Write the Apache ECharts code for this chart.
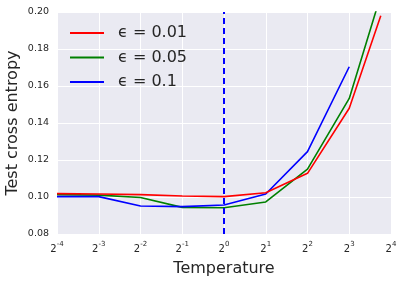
<!DOCTYPE html>
<html><head><meta charset="utf-8">
<script src="https://cdn.jsdelivr.net/npm/echarts@6/dist/echarts.min.js"></script>
<style>html,body{margin:0;padding:0;background:#fff}#c{width:404px;height:283px}</style>
</head><body><div id="c"></div>
<script>
var temperatures = [0.0625, 0.125, 0.25, 0.5, 1, 2, 4, 8, 13.5];
var tempsBlue = [0.0625, 0.125, 0.25, 0.5, 1, 2, 4, 8];
var eps001 = [0.1018, 0.1016, 0.1013, 0.1005, 0.1002, 0.1023, 0.1128, 0.148, 0.198];
var eps005 = [0.1013, 0.1010, 0.0997, 0.0944, 0.0942, 0.0973, 0.1151, 0.1533, 0.209];
var eps01  = [0.1002, 0.1002, 0.0951, 0.0948, 0.0957, 0.1016, 0.1245, 0.1704];
var seriesNames = ['\u03f5 = 0.01', '\u03f5 = 0.05', '\u03f5 = 0.1'];
var yTicks = [0.08, 0.10, 0.12, 0.14, 0.16, 0.18, 0.20];
var refTemperature = 1;

function pairs(xs, ys){ return ys.map(function(v,i){ return [xs[i], v]; }); }
var font = 'DejaVu Sans';
var chart = echarts.init(document.getElementById('c'), null, {renderer:'canvas'});
chart.setOption({
  animation:false,
  backgroundColor:'#ffffff',
  grid:{left:57, right:13, top:12, bottom:49, show:true, backgroundColor:'#EAEAF2', borderWidth:0,
        containLabel:false, outerBoundsMode:'none'},
  legend:{
    left:65, top:20, orient:'vertical', itemGap:8.5, itemWidth:34, itemHeight:18,
    textStyle:{fontFamily:font, fontSize:16, color:'#262626', padding:[0,0,0,9]},
    data:seriesNames.map(function(n){return {name:n, icon:'path://M0,0 L34,0 L34,2 L0,2 Z'};})
  },
  xAxis:{
    type:'log', logBase:2, min:0.0625, max:16,
    name:'Temperature', nameLocation:'middle', nameGap:27, nameMoveOverlap:false,
    nameTextStyle:{fontFamily:font, fontSize:16, color:'#262626'},
    axisLine:{show:false}, axisTick:{show:false},
    splitLine:{show:true, lineStyle:{color:'#ffffff', width:1}},
    axisLabel:{
      margin:7,
      formatter:function(v){ var e=Math.round(Math.log2(v)); return '{b|2}{s|'+e+'}'; },
      rich:{
        b:{fontFamily:font, fontSize:10, color:'#262626', verticalAlign:'bottom'},
        s:{fontFamily:font, fontSize:7, color:'#262626', verticalAlign:'top', padding:[0,0,6,0]}
      }
    }
  },
  yAxis:{
    type:'value', min:0.08, max:0.20, interval:0.02,
    name:'Test cross entropy', nameLocation:'middle', nameGap:36, nameMoveOverlap:false,
    nameTextStyle:{fontFamily:font, fontSize:16, color:'#262626'},
    axisLine:{show:false}, axisTick:{show:false},
    splitLine:{show:true, lineStyle:{color:'#ffffff', width:1}},
    axisLabel:{margin:8, fontFamily:font, fontSize:9.5, color:'#262626',
      formatter:function(v){ return v.toFixed(2); }}
  },
  series:[
    {name:seriesNames[0], type:'line', data:pairs(temperatures, eps001), showSymbol:false, symbol:'none',
     lineStyle:{color:'#ff0000', width:1.6}, itemStyle:{color:'#ff0000'}, clip:true, z:3,
     markLine:{silent:true, symbol:'none', label:{show:false},
       lineStyle:{color:'#0000ff', type:[6,4], width:2},
       data:[{xAxis:refTemperature}]}},
    {name:seriesNames[1], type:'line', data:pairs(temperatures, eps005), showSymbol:false, symbol:'none',
     lineStyle:{color:'#008000', width:1.6}, itemStyle:{color:'#008000'}, clip:true, z:2},
    {name:seriesNames[2], type:'line', data:pairs(tempsBlue, eps01), showSymbol:false, symbol:'none',
     lineStyle:{color:'#0000ff', width:1.6}, itemStyle:{color:'#0000ff'}, clip:true, z:2}
  ]
});
</script></body></html>
